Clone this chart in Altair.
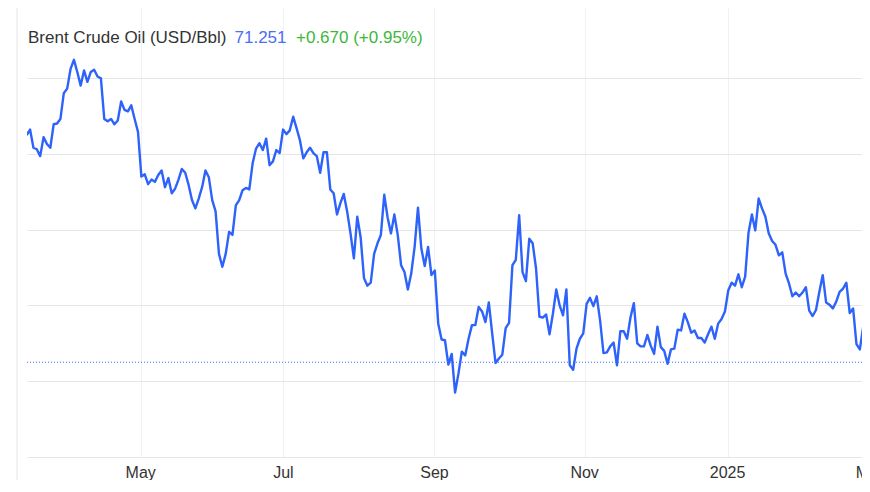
import altair as alt
import pandas as pd

# ---- header texts ----
TITLE = "Brent Crude Oil (USD/Bbl)"
LAST = "71.251"
CHANGE = "+0.670 (+0.95%)"
last_price = 71.251

# ---- daily closes (trading-day order, Mar 2024 -> Mar 2025) ----
prices = [
    86.24, 86.6, 85.4, 85.3, 84.85, 86.1, 85.65, 85.4, 86.95, 87.0,
    87.3, 89.0, 89.3, 90.6, 91.2, 90.4, 89.5, 90.5, 89.75, 90.4,
    90.55, 90.1, 89.98, 87.3, 87.15, 87.3, 86.95, 87.2, 88.45, 87.9,
    87.8, 88.2, 87.3, 86.45, 83.5, 83.65, 83.0, 83.3, 83.15, 83.6,
    83.9, 82.8, 83.4, 82.4, 82.7, 83.3, 84.0, 83.75, 82.95, 81.95,
    81.4, 82.05, 82.8, 83.9, 83.45, 81.95, 81.2, 78.4, 77.55, 78.4,
    79.85, 79.65, 81.6, 81.95, 82.6, 82.75, 82.65, 84.4, 85.35, 85.7,
    85.25, 86.0, 84.25, 84.5, 85.25, 85.05, 86.6, 86.3, 86.55, 87.45,
    86.7, 85.9, 84.7, 85.1, 85.4, 85.05, 84.85, 83.75, 85.1, 85.1,
    82.65, 82.4, 81.0, 81.75, 82.35, 81.2, 79.75, 78.1, 80.85, 79.5,
    76.8, 76.3, 76.5, 78.4, 79.1, 79.65, 82.3, 80.8, 79.75, 81.0,
    79.65, 77.65, 77.2, 76.05, 77.1, 78.85, 81.45, 78.75, 77.6, 78.85,
    77.0, 77.3, 73.8, 72.75, 72.7, 71.1, 71.8, 69.25, 70.5, 71.95,
    71.7, 72.8, 73.7, 73.7, 74.9, 74.6, 73.9, 75.2, 73.15, 71.2,
    71.5, 71.75, 73.5, 73.85, 77.65, 78.0, 80.95, 77.2, 76.6, 79.4,
    79.1, 77.45, 74.25, 74.2, 74.4, 73.1, 74.45, 76.05, 75.0, 74.35,
    76.05, 71.05, 70.75, 72.15, 72.8, 73.15, 75.1, 75.5, 74.95, 75.6,
    74.0, 71.85, 71.9, 72.3, 72.55, 71.05, 73.3, 73.3, 72.8, 74.2,
    75.15, 72.5, 72.3, 72.3, 73.05, 72.35, 71.8, 73.6, 72.25, 72.0,
    71.15, 72.1, 72.15, 73.4, 73.35, 74.45, 73.9, 73.2, 73.35, 72.85,
    72.85, 72.55, 73.1, 73.6, 72.8, 73.8, 74.1, 74.6, 76.0, 76.5,
    76.3, 77.05, 76.2, 76.9, 79.8, 81.0, 79.95, 82.05, 81.4, 80.85,
    79.75, 79.25, 79.0, 78.3, 78.5, 77.1, 76.45, 75.6, 75.85, 75.6,
    75.85, 76.2, 74.65, 74.3, 74.7, 75.9, 77.0, 75.2, 75.05, 74.8,
    75.25, 75.9, 76.1, 76.5, 74.5, 74.8, 72.45, 72.1, 73.6, 72.95,
    71.75, 71.251,
]

# ---- x-axis ticks (trading-day positions) and labels ----
tick_pos = [33.8, 76.1, 120.9, 165.4, 207.8, 249.9]
tick_labels = ["May", "Jul", "Sep", "Nov", "2025", "Mar"]
y_grid = [65, 70, 75, 80, 85, 90]

df = pd.DataFrame({"i": list(range(len(prices))), "price": prices})
ticks_df = pd.DataFrame({"i": tick_pos, "label": tick_labels})
last_df = pd.DataFrame({"price": [last_price]})

W, H = 835, 449
FONT = "Liberation Sans"
LINE_BLUE = "#2d62fb"

x_scale = alt.Scale(domain=[0.09, 247.64], nice=False, zero=False)
y_scale = alt.Scale(domain=[65, 94.62], nice=False, zero=False)
x_axis = alt.Axis(
    values=tick_pos, labels=False, title=None, domain=False,
    ticks=False, tickSize=0, grid=True, gridColor="#eef2f3", gridWidth=1,
)
y_axis = alt.Axis(
    values=y_grid, orient="right", labels=False, ticks=False, domain=False,
    grid=True, gridColor="#e6e6e6", gridWidth=1, title=None,
)

line = alt.Chart(df).mark_line(
    color=LINE_BLUE, strokeWidth=2.4, clip=True, strokeJoin="round"
).encode(
    x=alt.X("i:Q", scale=x_scale, axis=x_axis),
    y=alt.Y("price:Q", scale=y_scale, axis=y_axis),
)

month_labels = alt.Chart(ticks_df).mark_text(
    align="center", baseline="top", font=FONT, fontSize=16, color="#333333"
).encode(
    x=alt.X("i:Q", scale=x_scale, axis=x_axis),
    y=alt.value(H + 8),
    text="label:N",
)

last_rule = alt.Chart(last_df).mark_rule(
    color="#3a6cff", strokeWidth=1, strokeDash=[1, 2]
).encode(y=alt.Y("price:Q", scale=y_scale, axis=y_axis))

border = alt.Chart(last_df).mark_rule(color="#e6e6e6", strokeWidth=1).encode(
    x=alt.value(-10), y=alt.value(0), y2=alt.value(H + 23)
)

def head(txt, xpos, color):
    return alt.Chart(pd.DataFrame({"t": [txt]})).mark_text(
        align="left", baseline="alphabetic", font=FONT, fontSize=17, color=color
    ).encode(text="t:N", x=alt.value(xpos), y=alt.value(35))

chart = alt.layer(
    line,
    border,
    last_rule,
    month_labels,
    head(TITLE, 1, "#333333"),
    head(LAST, 207.5, "#4b6ef5"),
    head(CHANGE, 269, "#3cb83c"),
).properties(
    width=W, height=H,
    background="white",
    autosize=alt.AutoSizeParams(type="none"),
    padding={"left": 19, "top": 0, "right": 0, "bottom": 23},
).configure_view(stroke=None, strokeWidth=0)

chart.save("out.html", embed_options={"renderer": "svg", "actions": False})
